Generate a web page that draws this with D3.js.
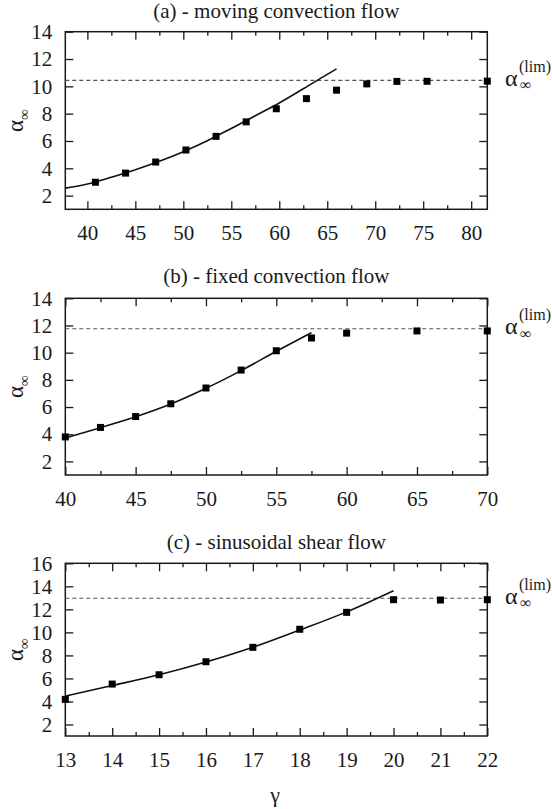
<!DOCTYPE html>
<html>
<head>
<meta charset="utf-8">
<script src="https://cdn.jsdelivr.net/npm/d3@7"></script>
<style>
  html, body { margin: 0; padding: 0; background: #fff; }
  svg { display: block; }
</style>
</head>
<body>
<div id="chart"></div>
<script>
// (a) moving convection flow
const aGamma = [40.84, 43.98, 47.12, 50.27, 53.41, 56.55, 59.69, 62.83, 65.97, 69.12, 72.26, 75.40, 81.68];
const aAlpha = [2.98, 3.65, 4.46, 5.34, 6.34, 7.40, 8.36, 9.10, 9.72, 10.18, 10.36, 10.37, 10.38];
const aFitX = [37.7, 40, 42.5, 45, 47.5, 50, 52.5, 55, 57.5, 60, 62.5, 65, 65.97];
const aFitY = [2.55, 2.85, 3.35, 3.9, 4.52, 5.22, 6.02, 6.92, 7.85, 8.78, 9.82, 10.88, 11.28];
const aLim = 10.44;

// (b) fixed convection flow
const bGamma = [40, 42.5, 45, 47.5, 50, 52.5, 55, 57.5, 60, 65, 70];
const bAlpha = [3.8, 4.5, 5.3, 6.24, 7.4, 8.72, 10.14, 11.08, 11.44, 11.6, 11.6];
const bFitX = [40, 42.5, 45, 47.5, 50, 52.5, 55, 57.5];
const bFitY = [3.72, 4.48, 5.28, 6.22, 7.38, 8.68, 10.1, 11.47];
const bLim = 11.76;

// (c) sinusoidal shear flow
const cGamma = [13, 14, 15, 16, 17, 18, 19, 20, 21, 22];
const cAlpha = [4.18, 5.51, 6.32, 7.45, 8.70, 10.27, 11.74, 12.84, 12.81, 12.84];
const cFitX = [13, 14, 15, 16, 17, 18, 19, 20];
const cFitY = [4.47, 5.38, 6.32, 7.42, 8.7, 10.2, 11.78, 13.62];
const cLim = 12.96;

const titles = ['(a) - moving convection flow', '(b) - fixed convection flow', '(c) - sinusoidal shear flow'];
const xDomains = [[37.7, 81.68], [40, 70], [13, 22]];
const yDomains = [[1, 14], [1, 14], [1, 16]];
const xMajor = [[40, 45, 50, 55, 60, 65, 70, 75, 80], [40, 45, 50, 55, 60, 65, 70], [13, 14, 15, 16, 17, 18, 19, 20, 21, 22]];
const xMinor = [[42.5, 47.5, 52.5, 57.5, 62.5, 67.5, 72.5, 77.5], [42.5, 47.5, 52.5, 57.5, 62.5, 67.5], [13.5, 14.5, 15.5, 16.5, 17.5, 18.5, 19.5, 20.5, 21.5]];
const yMajor = [[2, 4, 6, 8, 10, 12, 14], [2, 4, 6, 8, 10, 12, 14], [2, 4, 6, 8, 10, 12, 14, 16]];

const W = 552, H = 809;
const FONT = "'Liberation Serif', 'Times New Roman', serif";
const INK = '#1a1a1a';
const left = 65.3, right = 487.3;
const frames = [[31.7, 209.3], [298.3, 475], [563.3, 736]];
const titleBase = [17.5, 282.7, 549];

const panels = [
  { pts: d3.zip(aGamma, aAlpha), fit: d3.zip(aFitX, aFitY), lim: aLim },
  { pts: d3.zip(bGamma, bAlpha), fit: d3.zip(bFitX, bFitY), lim: bLim },
  { pts: d3.zip(cGamma, cAlpha), fit: d3.zip(cFitX, cFitY), lim: cLim },
];

const svg = d3.select('#chart').append('svg')
  .attr('width', W).attr('height', H)
  .attr('viewBox', `0 0 ${W} ${H}`)
  .style('font-family', FONT);

panels.forEach((p, i) => {
  const [top, bottom] = frames[i];
  const x = d3.scaleLinear().domain(xDomains[i]).range([left, right]);
  const y = d3.scaleLinear().domain(yDomains[i]).range([bottom, top]);
  const g = svg.append('g');

  // title
  g.append('text')
    .attr('x', (left + right) / 2).attr('y', titleBase[i])
    .attr('text-anchor', 'middle')
    .attr('font-size', 21).attr('fill', INK)
    .text(titles[i]);

  // axes, ticks pointing inward on all sides
  const styleAxis = (sel) => {
    sel.select('.domain').remove();
    sel.selectAll('line').attr('stroke', INK).attr('stroke-width', 1.3);
    sel.selectAll('text').attr('font-size', 21).attr('fill', INK).attr('font-family', FONT);
  };

  g.append('g').attr('transform', `translate(0,${bottom})`)
    .call(d3.axisBottom(x).tickValues(xMajor[i]).tickSize(-8).tickPadding(16).tickFormat(d3.format('d')))
    .call(styleAxis);
  g.append('g').attr('transform', `translate(0,${bottom})`)
    .call(d3.axisBottom(x).tickValues(xMinor[i]).tickSize(-4).tickFormat(''))
    .call(styleAxis);
  g.append('g').attr('transform', `translate(0,${top})`)
    .call(d3.axisTop(x).tickValues(xMajor[i]).tickSize(-8).tickFormat(''))
    .call(styleAxis);
  g.append('g').attr('transform', `translate(0,${top})`)
    .call(d3.axisTop(x).tickValues(xMinor[i]).tickSize(-4).tickFormat(''))
    .call(styleAxis);
  g.append('g').attr('transform', `translate(${left},0)`)
    .call(d3.axisLeft(y).tickValues(yMajor[i]).tickSize(-8).tickPadding(13).tickFormat(d3.format('d')))
    .call(styleAxis);
  g.append('g').attr('transform', `translate(${right},0)`)
    .call(d3.axisRight(y).tickValues(yMajor[i]).tickSize(-8).tickFormat(''))
    .call(styleAxis);

  // frame
  g.append('rect')
    .attr('x', left).attr('y', top)
    .attr('width', right - left).attr('height', bottom - top)
    .attr('fill', 'none').attr('stroke', INK).attr('stroke-width', 1.5);

  // limit line
  g.append('line')
    .attr('x1', left).attr('x2', right)
    .attr('y1', y(p.lim)).attr('y2', y(p.lim))
    .attr('stroke', '#555').attr('stroke-width', 1.1)
    .attr('stroke-dasharray', '4,3');

  // fitted curve
  g.append('path')
    .datum(p.fit)
    .attr('fill', 'none').attr('stroke', '#111').attr('stroke-width', 1.6)
    .attr('d', d3.line().x((d) => x(d[0])).y((d) => y(d[1])).curve(d3.curveMonotoneX));

  // data points
  g.append('g').selectAll('rect')
    .data(p.pts)
    .join('rect')
    .attr('x', (d) => x(d[0]) - 3.5).attr('y', (d) => y(d[1]) - 3.5)
    .attr('width', 7).attr('height', 7)
    .attr('fill', '#000');

  // y label
  const cy = (top + bottom) / 2;
  const yl = g.append('text')
    .attr('transform', `translate(23,${cy}) rotate(-90)`)
    .attr('text-anchor', 'middle')
    .attr('font-size', 23).attr('fill', INK);
  yl.append('tspan').text('α');
  yl.append('tspan').attr('dy', 6).attr('font-size', 15).text('∞');

  // limit label
  const ly = y(p.lim);
  g.append('text').attr('x', 505).attr('y', ly + 5.5)
    .attr('font-size', 24).attr('fill', INK).text('α');
  g.append('text').attr('x', 519).attr('y', ly - 8.5)
    .attr('font-size', 16).attr('fill', INK).text('(lim)');
  g.append('text').attr('x', 520).attr('y', ly + 10)
    .attr('font-size', 16).attr('fill', INK).text('∞');
});

// x axis title
svg.append('text')
  .attr('x', 275).attr('y', 802)
  .attr('text-anchor', 'middle')
  .attr('font-size', 22).attr('fill', INK)
  .text('γ');
</script>
</body>
</html>
